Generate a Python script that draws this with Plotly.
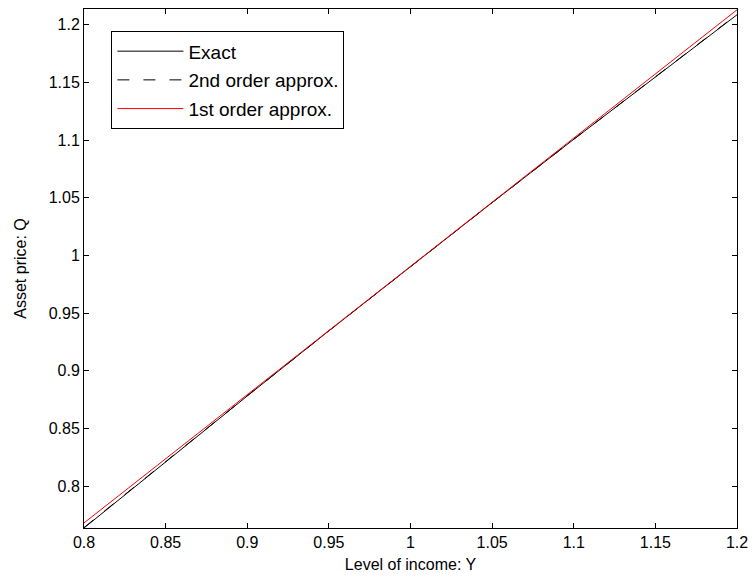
import plotly.graph_objects as go

# Level of income Y
income = [0.80, 0.85, 0.90, 0.95, 1.00, 1.05, 1.10, 1.15, 1.20]

# Asset price Q: exact solution and its approximations
q_exact = [0.7636, 0.8212, 0.8781, 0.9346, 0.9905, 1.0458, 1.1007, 1.1550, 1.2087]
q_second = [0.7640, 0.8214, 0.8782, 0.9346, 0.9905, 1.0458, 1.1007, 1.1551, 1.2090]
q_first = [0.7680, 0.8236, 0.8793, 0.9349, 0.9905, 1.0461, 1.1018, 1.1574, 1.2130]

x_ticks = [0.8, 0.85, 0.9, 0.95, 1.0, 1.05, 1.1, 1.15, 1.2]
x_labels = ["0.8", "0.85", "0.9", "0.95", "1", "1.05", "1.1", "1.15", "1.2"]
y_ticks = [0.8, 0.85, 0.9, 0.95, 1.0, 1.05, 1.1, 1.15, 1.2]
y_labels = ["0.8", "0.85", "0.9", "0.95", "1", "1.05", "1.1", "1.15", "1.2"]

font = "Liberation Sans, Arial, Helvetica, sans-serif"

fig = go.Figure()
fig.add_trace(go.Scatter(x=income, y=q_exact, mode="lines", name="Exact",
                         legendgroup="g1",
                         line=dict(color="black", width=1)))
fig.add_trace(go.Scatter(x=income, y=q_second, mode="lines", name="2nd order approx.",
                         legendgroup="g2",
                         line=dict(color="black", width=1, dash="12px,14px")))
fig.add_trace(go.Scatter(x=income, y=q_first, mode="lines", name="1st order approx.",
                         legendgroup="g3",
                         line=dict(color="red", width=1)))

axis_common = dict(
    showline=True, linecolor="black", linewidth=1, mirror="ticks",
    ticks="inside", ticklen=5, tickcolor="black", tickwidth=1,
    showgrid=False, zeroline=False,
    tickfont=dict(family=font, size=16, color="black"),
)

fig.update_xaxes(range=[0.8, 1.2], tickvals=x_ticks, ticktext=x_labels,
                 title=dict(text="Level of income: Y", font=dict(family=font, size=16, color="black"),
                            standoff=8),
                 **axis_common)
fig.update_yaxes(range=[0.7636, 1.2137], tickvals=y_ticks, ticktext=y_labels,
                 title=dict(text="Asset price: Q", font=dict(family=font, size=16, color="black"),
                            standoff=18),
                 **axis_common)

fig.update_layout(
    width=756, height=582,
    margin=dict(l=84, r=16, t=8, b=54),
    paper_bgcolor="white", plot_bgcolor="white",
    font=dict(family=font, size=16, color="black"),
    showlegend=True,
    legend=dict(x=0.042, y=0.957, xanchor="left", yanchor="top",
                bgcolor="white", bordercolor="black", borderwidth=1,
                font=dict(family=font, size=19, color="black"),
                itemwidth=66, tracegroupgap=1, traceorder="grouped"),
)

fig.write_html("out.html")
